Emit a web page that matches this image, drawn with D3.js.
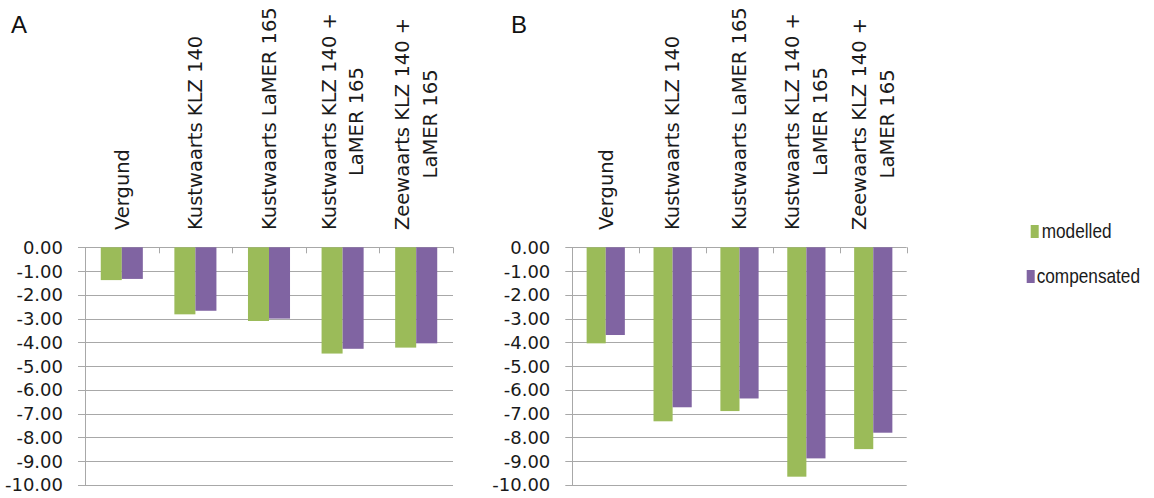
<!DOCTYPE html>
<html>
<head>
<meta charset="utf-8">
<script src="https://cdn.jsdelivr.net/npm/d3@7"></script>
<style>
  html, body { margin: 0; padding: 0; background: #fff; }
  svg { display: block; }
</style>
</head>
<body>
<svg id="chart" width="1154" height="498"></svg>
<script>
// ---- data ----
const categories = [
  "Vergund",
  "Kustwaarts KLZ 140",
  "Kustwaarts LaMER 165",
  "Kustwaarts KLZ 140 + LaMER 165",
  "Zeewaarts KLZ 140 + LaMER 165"
];
const categoryLines = [
  ["Vergund"],
  ["Kustwaarts KLZ 140"],
  ["Kustwaarts LaMER 165"],
  ["Kustwaarts KLZ 140 +", "LaMER 165"],
  ["Zeewaarts KLZ 140 +", "LaMER 165"]
];
const seriesNames = ["modelled", "compensated"];
const seriesColors = ["#9BBB59", "#8064A2"];
const modelledA    = [-1.38, -2.82, -3.10, -4.47, -4.22];
const compensatedA = [-1.33, -2.67, -3.00, -4.27, -4.04];
const modelledB    = [-4.04, -7.32, -6.89, -9.65, -8.49];
const compensatedB = [-3.69, -6.73, -6.36, -8.88, -7.80];
const yTicks = [0, -1, -2, -3, -4, -5, -6, -7, -8, -9, -10];
const panelLabels = ["A", "B"];

// ---- layout ----
const svg = d3.select("#chart");
const panels = [
  { label: panelLabels[0], x0: 85, x1: 453, lx: 11, values: [modelledA, compensatedA] },
  { label: panelLabels[1], x0: 572.3, x1: 906.7, lx: 511, values: [modelledB, compensatedB] }
];
const yTop = 247.3, yBot = 485;
const gridColor = "#a8a8a8";
const fmt = v => v.toFixed(2);

panels.forEach(p => {
  const g = svg.append("g");
  const y = d3.scaleLinear().domain([-10, 0]).range([yBot, yTop]);
  const x = d3.scaleBand().domain(categories).range([p.x0, p.x1])
    .paddingInner(1.5 / 3.5).paddingOuter(0.75 / 3.5);
  const xs = d3.scaleBand().domain(seriesNames).range([0, x.bandwidth()]).padding(0);
  const step = x.step();

  // gridlines
  g.append("g").selectAll("line").data(yTicks).join("line")
    .attr("x1", p.x0 - 7).attr("x2", p.x1)
    .attr("y1", d => Math.round(y(d)) + 0.5).attr("y2", d => Math.round(y(d)) + 0.5)
    .attr("stroke", gridColor).attr("stroke-width", 1);

  // y axis line
  g.append("line")
    .attr("x1", Math.round(p.x0) + 0.5).attr("x2", Math.round(p.x0) + 0.5)
    .attr("y1", y(0)).attr("y2", y(-10))
    .attr("stroke", gridColor);

  // category tick marks
  g.append("g").selectAll("line").data(d3.range(1, categories.length + 1)).join("line")
    .attr("x1", i => Math.round(p.x0 + i * step) + 0.5)
    .attr("x2", i => Math.round(p.x0 + i * step) + 0.5)
    .attr("y1", y(0)).attr("y2", y(0) + 6)
    .attr("stroke", gridColor);

  // tick labels
  g.append("g").selectAll("text").data(yTicks).join("text")
    .attr("x", p.x0 - 22).attr("y", d => y(d))
    .attr("dy", "0.36em")
    .attr("text-anchor", "end")
    .attr("font-family", "DejaVu Sans, sans-serif")
    .attr("font-size", 18)
    .attr("fill", "#1a1a1a")
    .text(fmt);

  // bars
  seriesNames.forEach((s, si) => {
    g.append("g").selectAll("rect").data(p.values[si]).join("rect")
      .attr("x", (d, i) => x(categories[i]) + xs(s))
      .attr("width", xs.bandwidth())
      .attr("y", d => y(0))
      .attr("height", d => y(d) - y(0))
      .attr("fill", seriesColors[si]);
  });

  // category labels (rotated)
  const labelBase = 230;
  const lineGap = 27.5;
  categories.forEach((c, i) => {
    const lines = categoryLines[i];
    const cx = x(c) + x.bandwidth() / 2;
    const grp = g.append("g");
    const texts = lines.map((ln, li) => grp.append("text")
      .attr("font-family", "DejaVu Sans, sans-serif")
      .attr("font-size", 19.5)
      .attr("fill", "#1a1a1a")
      .attr("text-anchor", "middle")
      .text(ln));
    const maxW = d3.max(texts, t => t.node().getComputedTextLength());
    const centerY = labelBase - maxW / 2;
    texts.forEach((t, li) => {
      const off = (li - (lines.length - 1) / 2) * lineGap;
      t.attr("transform", `translate(${cx + off},${centerY}) rotate(-90)`)
       .attr("dy", "0.35em");
    });
  });

  // panel label
  svg.append("text")
    .attr("x", p.lx).attr("y", 33)
    .attr("font-family", "Liberation Sans, Arial, sans-serif")
    .attr("font-size", 24)
    .attr("fill", "#111")
    .text(p.label);
});

// legend
const legendItems = [
  { name: seriesNames[0], color: seriesColors[0], sx: 1030.7, sy: 225, tx: 1041.7, ty: 238 },
  { name: seriesNames[1], color: seriesColors[1], sx: 1026.7, sy: 270, tx: 1036.7, ty: 283 }
];
const lg = svg.append("g");
lg.selectAll("rect").data(legendItems).join("rect")
  .attr("x", d => d.sx).attr("y", d => d.sy)
  .attr("width", 8).attr("height", 13)
  .attr("fill", d => d.color);
const squeeze = 0.82;
lg.selectAll("text").data(legendItems).join("text")
  .attr("transform", d => `translate(${d.tx},${d.ty}) scale(${squeeze},1)`)
  .attr("font-family", "Liberation Sans, Arial, sans-serif")
  .attr("font-size", 21)
  .attr("fill", "#1a1a1a")
  .text(d => d.name);
</script>
</body>
</html>
